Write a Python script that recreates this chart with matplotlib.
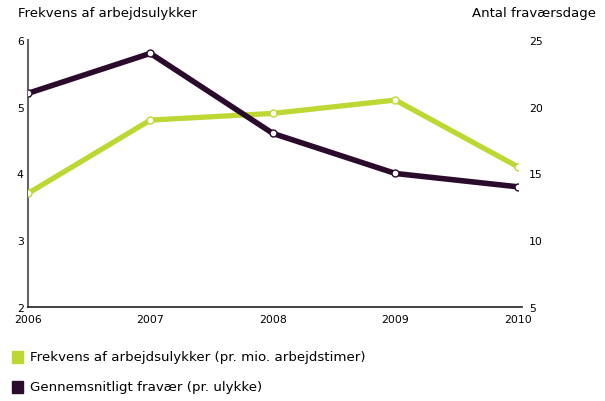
import matplotlib.pyplot as plt
from matplotlib.patches import Rectangle

years = ['2006', '2007', '2008', '2009', '2010']
frekvens = [3.7, 4.8, 4.9, 5.1, 4.1]
fravaer = [21, 24, 18, 15, 14]
left_ticks = [2, 3, 4, 5, 6]
right_ticks = [5, 10, 15, 20, 25]
series_names = ['Frekvens af arbejdsulykker (pr. mio. arbejdstimer)',
                'Gennemsnitligt fravær (pr. ulykke)']

green = '#bed733'
dark = '#2a0b2c'
font = 'DejaVu Sans'
fs = 7.8

fig = plt.figure(figsize=(6.05, 4.02), dpi=100)
ax = fig.add_axes([0.046, 0.234, 0.81, 0.664])
ax2 = ax.twinx()

x = list(range(len(years)))
ax.plot(x, frekvens, color=green, lw=3.8, solid_capstyle='butt', zorder=3,
        marker='o', ms=5, mfc='white', mec=green, mew=1)
ax2.plot(x, fravaer, color=dark, lw=4, solid_capstyle='butt', zorder=3,
         marker='o', ms=5, mfc='white', mec=dark, mew=1)

ax.set_xlim(0, 4)
ax.set_ylim(2, 6)
ax2.set_ylim(5, 25)
ax.set_xticks(x)
ax.set_xticklabels(years, fontsize=fs, family=font)
ax.set_yticks(left_ticks)
ax.set_yticklabels([str(t) for t in left_ticks], fontsize=fs, family=font)
ax2.set_yticks(right_ticks)
ax2.set_yticklabels([str(t) for t in right_ticks], fontsize=fs, family=font)
ax.tick_params(axis='both', length=0, pad=3)
ax.tick_params(axis='x', pad=5)
ax2.tick_params(axis='y', length=0, pad=8)

for a in (ax, ax2):
    a.spines['top'].set_visible(False)
    a.spines['right'].set_visible(False)
    a.spines['left'].set_visible(False)
ax.spines['left'].set_visible(True)
ax.spines['left'].set_color('#666666')
ax.spines['left'].set_linewidth(1.5)
ax.spines['bottom'].set_color('#222222')
ax.spines['bottom'].set_linewidth(1.2)
ax.spines['bottom'].set_bounds(0, 4.03)
ax2.spines['bottom'].set_visible(False)

fig.text(18 / 605, 1 - 14 / 402, 'Frekvens af arbejdsulykker', fontsize=9.5,
         family=font, va='center', ha='left')
fig.text(596 / 605, 1 - 14 / 402, 'Antal fraværsdage', fontsize=9.5,
         family=font, va='center', ha='right')

colors = [green, dark]
ys = [358, 388]
for name, c, yy in zip(series_names, colors, ys):
    fig.patches.append(Rectangle((12 / 605, 1 - (yy + 6) / 402), 11 / 605, 12 / 402,
                                 transform=fig.transFigure, color=c))
    fig.text(30 / 605, 1 - yy / 402, name, fontsize=9.6, family=font,
             va='center', ha='left')

fig.savefig('out.png', dpi=100)
